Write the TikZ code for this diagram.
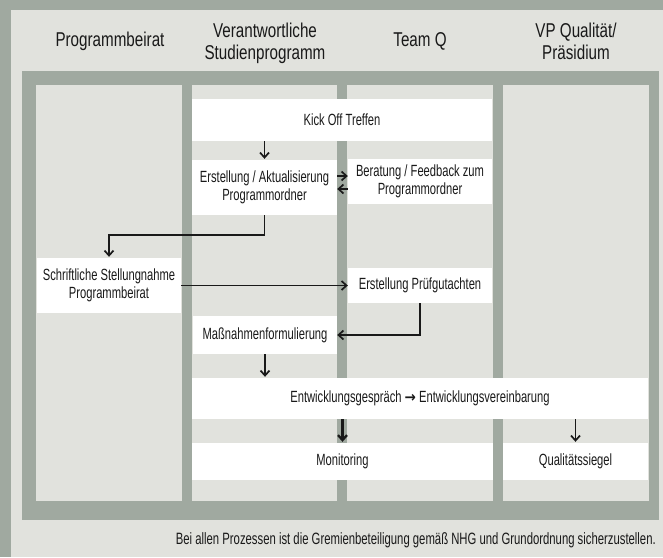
\documentclass[tikz,border=0pt]{standalone}
\usepackage{fontspec}
\setmainfont[FakeStretch=0.69]{Liberation Sans}
\newfontfamily\headfont[FakeStretch=0.76]{Liberation Sans}
\newfontfamily\arrowfont[FakeStretch=0.9]{DejaVu Sans}
\usetikzlibrary{arrows.meta,calc}
\definecolor{bggray}{RGB}{160,169,160}
\definecolor{panel}{RGB}{225,226,221}
\definecolor{ink}{RGB}{25,25,25}
\begin{document}
\begin{tikzpicture}[x=1pt,y=-1pt,
  box/.style={fill=white, draw=none, inner sep=0pt, align=center, text=ink,
    font=\fontsize{16.2}{18.5}\selectfont},
  head/.style={text=ink, align=center, inner sep=0pt,
    font=\headfont\fontsize{20}{20.6}\selectfont},
  arr/.style={draw=ink, line width=1.7pt, -{Straight Barb[length=5pt,width=9pt]}},
]
\useasboundingbox (0,0) rectangle (663,557);
% background layers
\fill[bggray] (0,0) rectangle (663,557);
\fill[panel] (11,10) rectangle (663,557);
\fill[bggray] (22,71) rectangle (659,520);
\foreach \a/\b in {36/182,192/337,347/493,503/649}
  \fill[panel] (\a,85) rectangle (\b,501);

% headers
\node[head, anchor=north] (h1) at (110,32.3) {\strut Programmbeirat};
\node[head, anchor=north] (h2) at (265,23.3) {\strut Verantwortliche\\\strut Studienprogramm};
\node[head, anchor=north] (h3) at (420,32.3) {\strut Team Q};
\node[head, anchor=north] (h4) at (576,23.3) {\strut VP Qualität/\\\strut Präsidium};

% boxes
\node[box, minimum width=300pt, minimum height=42pt] (kick) at (342,120) {Kick Off Treffen};
\node[box, minimum width=145pt, minimum height=55pt] (erst) at (264.5,187.5) {Erstellung / Aktualisierung\\Programmordner};
\node[box, minimum width=144pt, minimum height=45pt] (ber) at (420,181.5) {Beratung / Feedback zum\\Programmordner};
\node[box, minimum width=144pt, minimum height=55pt] (schr) at (109,285.5) {Schriftliche Stellungnahme\\Programmbeirat};
\node[box, minimum width=144pt, minimum height=35pt] (pruef) at (420,285.5) {Erstellung Prüfgutachten};
\node[box, minimum width=144pt, minimum height=38pt] (mass) at (265,335) {Maßnahmenformulierung};
\node[box, minimum width=456pt, minimum height=41pt] (entw) at (420,398.5) {Entwicklungsgespräch {\arrowfont\bfseries\fontsize{15}{16}\selectfont →} Entwicklungsvereinbarung};
\node[box, minimum width=301pt, minimum height=37pt] (mon) at (342.5,461.5) {Monitoring};
\node[box, minimum width=145pt, minimum height=37pt] (qual) at (575.5,461.5) {Qualitätssiegel};

% footer
\node[anchor=base east, inner sep=0pt, text=ink, font=\fontsize{16.4}{17}\selectfont] (note) at (656,544)
  {Bei allen Prozessen ist die Gremienbeteiligung gemäß NHG und Grundordnung sicherzustellen.};

% connectors
\coordinate (b1) at ([yshift=5.5pt]ber.west);
\coordinate (b2) at ([yshift=-7.5pt]ber.west);
\draw[arr] (erst.north |- kick.south) -- ([yshift=1pt]erst.north);
\draw[arr] (erst.east |- b1) -- (b1);
\draw[arr] (b2) -- (erst.east |- b2);
\draw[arr] (erst.south) -- ++(0,20) -| ([yshift=1pt]schr.north);
\draw[arr] (schr.east) -- (pruef.west);
\draw[arr] (pruef.south) |- (mass.east);
\draw[arr] (mass.south) -- ([yshift=1pt]mass.south |- entw.north);
\draw[arr, line width=2.3pt] (mon.north |- entw.south) -- ([yshift=1pt]mon.north);
\draw[arr] (qual.north |- entw.south) -- ([yshift=1pt]qual.north);
\end{tikzpicture}
\end{document}
